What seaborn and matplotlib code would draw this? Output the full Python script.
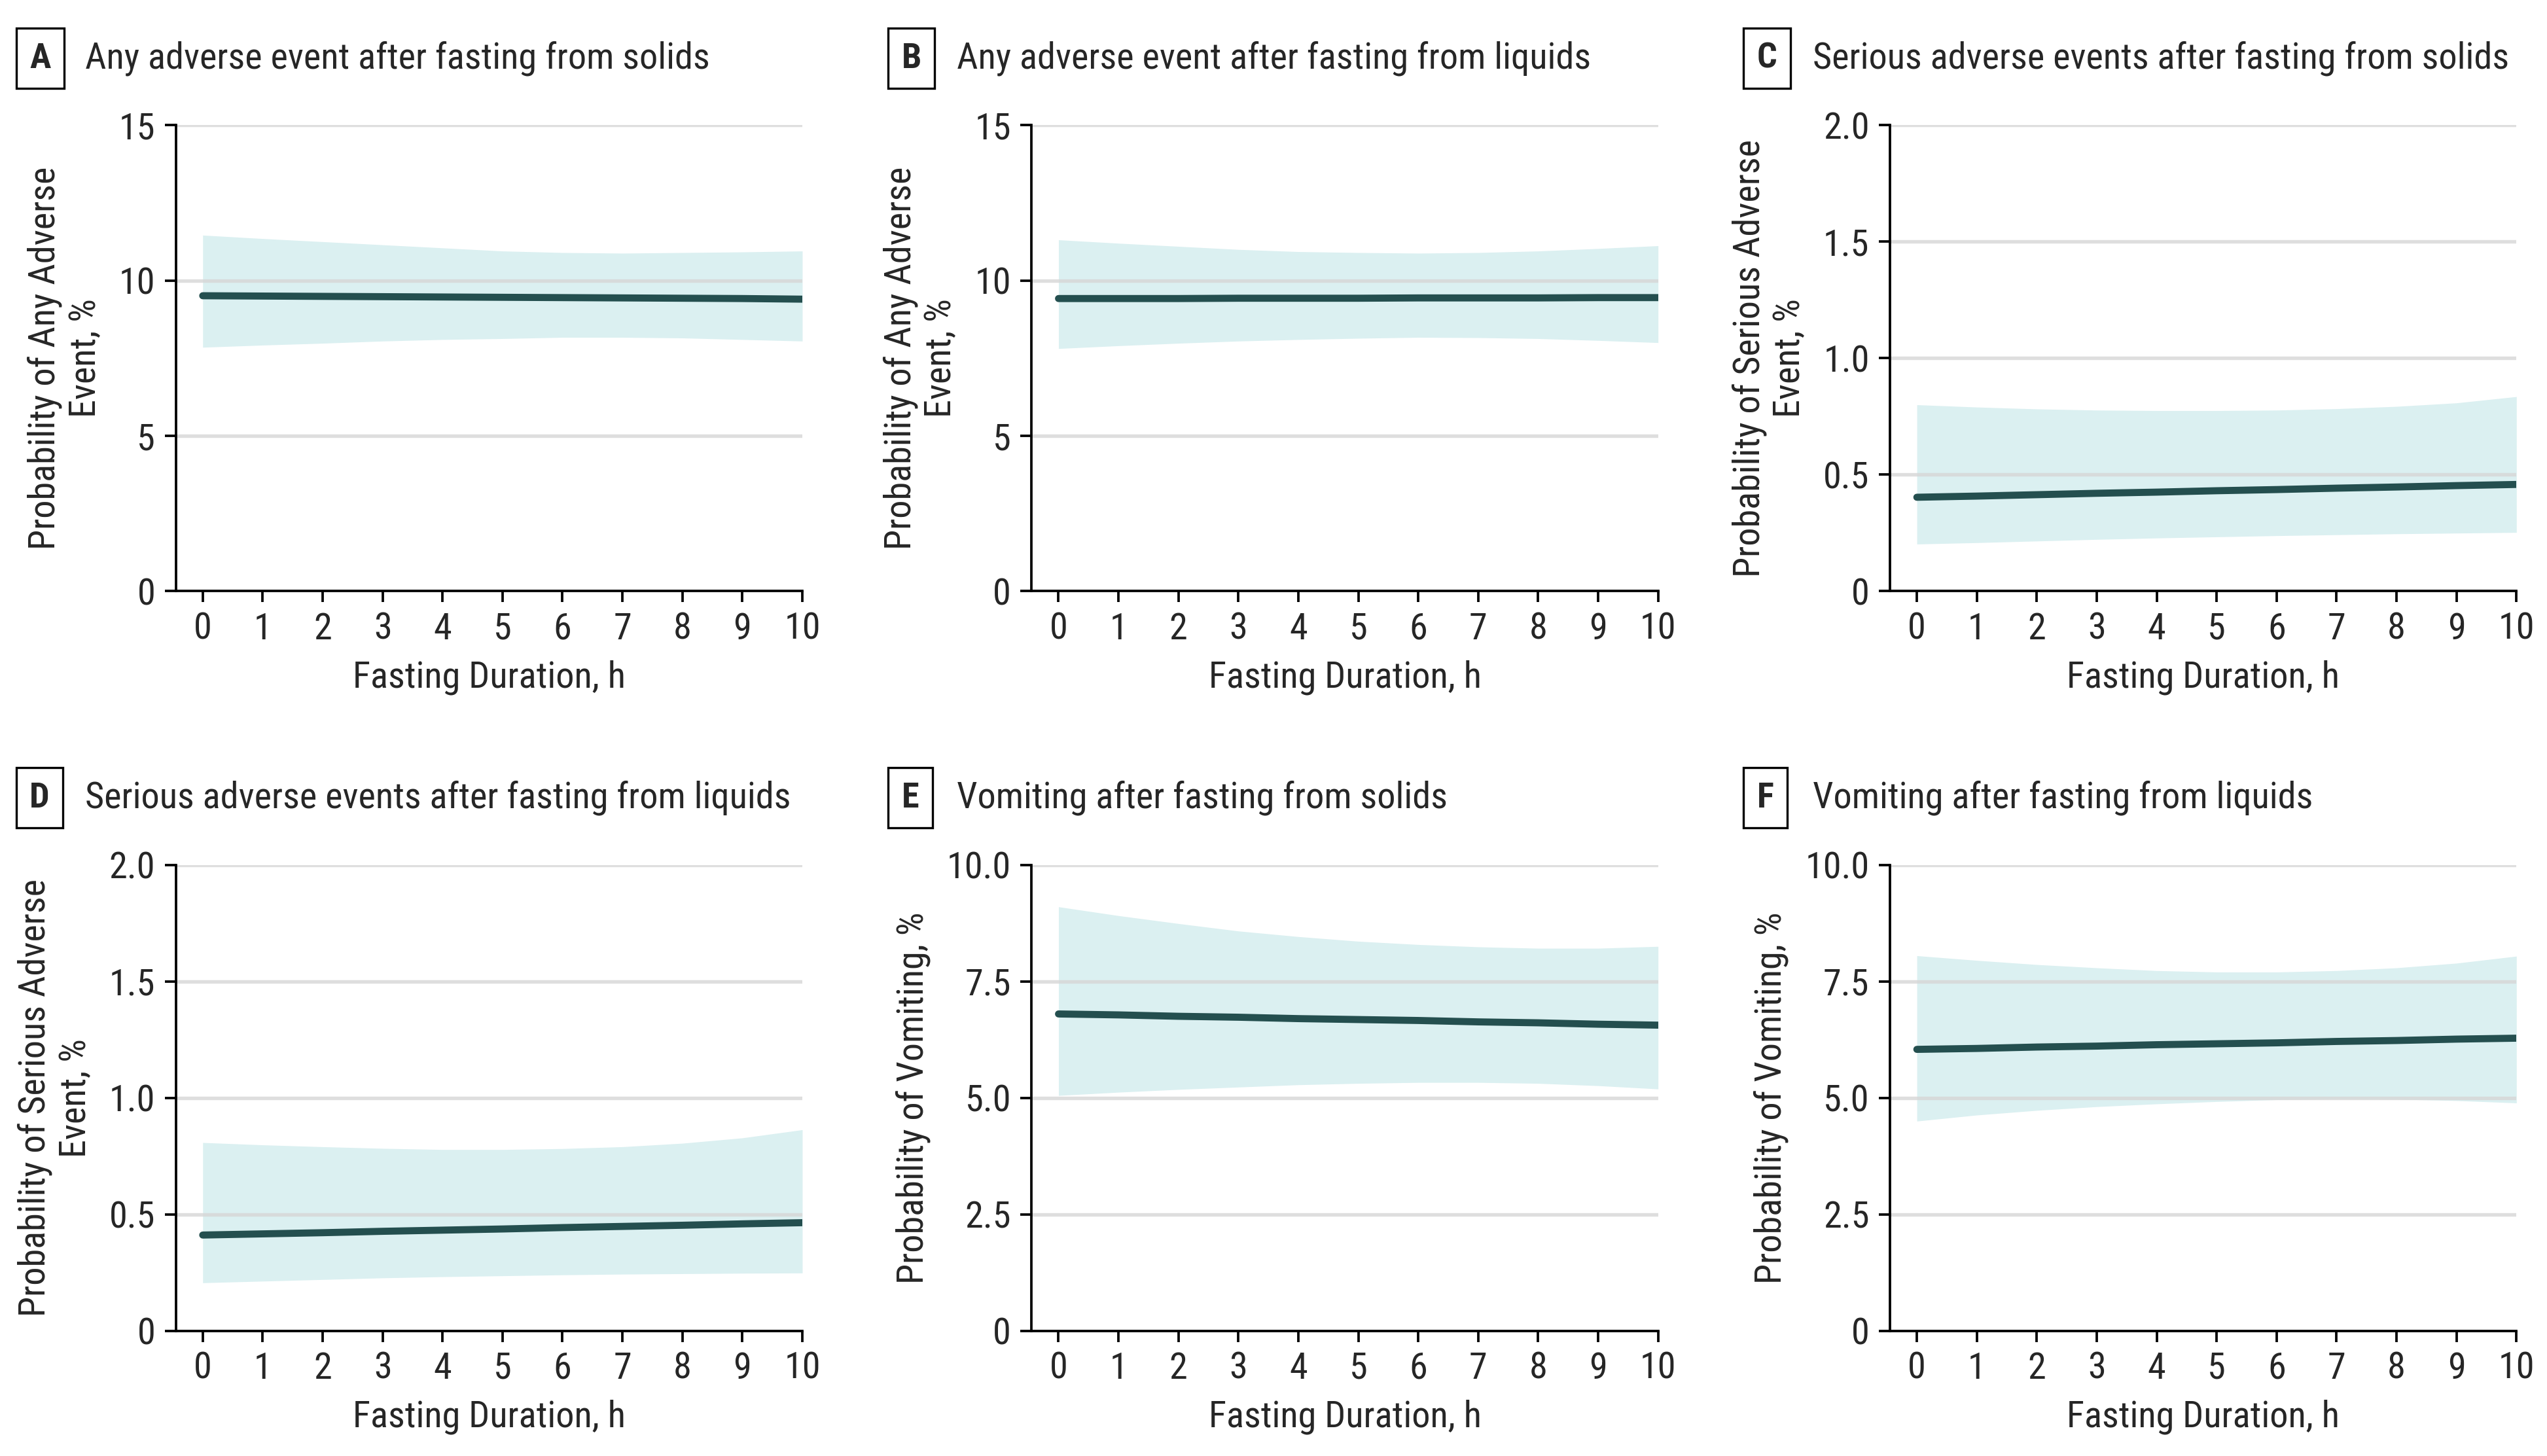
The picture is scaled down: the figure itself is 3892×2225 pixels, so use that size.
import numpy as np
import matplotlib
matplotlib.use("Agg")
import matplotlib.pyplot as plt
from matplotlib import font_manager
import seaborn as sns

# fasting duration (h)
hours = list(range(11))

# A - any adverse event, solids
a_mean = [9.51, 9.50, 9.49, 9.48, 9.47, 9.46, 9.45, 9.44, 9.43, 9.42, 9.40]
a_upper = [11.46, 11.35, 11.25, 11.15, 11.05, 10.95, 10.90, 10.88, 10.90, 10.92, 10.95]
a_lower = [7.85, 7.92, 7.98, 8.05, 8.10, 8.13, 8.17, 8.17, 8.15, 8.10, 8.05]

# B - any adverse event, liquids
b_mean = [9.42, 9.42, 9.42, 9.43, 9.43, 9.43, 9.44, 9.44, 9.44, 9.45, 9.45]
b_upper = [11.31, 11.20, 11.10, 11.00, 10.93, 10.90, 10.88, 10.90, 10.95, 11.03, 11.12]
b_lower = [7.81, 7.90, 7.98, 8.05, 8.10, 8.14, 8.17, 8.16, 8.13, 8.07, 8.00]

# C - serious adverse events, solids
c_mean = [0.403, 0.408, 0.414, 0.420, 0.425, 0.431, 0.436, 0.442, 0.447, 0.453, 0.458]
c_upper = [0.800, 0.790, 0.782, 0.777, 0.775, 0.775, 0.777, 0.783, 0.793, 0.808, 0.835]
c_lower = [0.202, 0.208, 0.215, 0.222, 0.228, 0.233, 0.238, 0.242, 0.246, 0.249, 0.252]

# D - serious adverse events, liquids
d_mean = [0.411, 0.416, 0.421, 0.427, 0.432, 0.437, 0.443, 0.448, 0.453, 0.459, 0.464]
d_upper = [0.808, 0.798, 0.790, 0.783, 0.778, 0.778, 0.782, 0.790, 0.805, 0.828, 0.863]
d_lower = [0.206, 0.213, 0.220, 0.227, 0.232, 0.236, 0.240, 0.243, 0.245, 0.247, 0.248]

# E - vomiting, solids
e_mean = [6.80, 6.78, 6.75, 6.73, 6.70, 6.68, 6.66, 6.63, 6.61, 6.58, 6.56]
e_upper = [9.10, 8.91, 8.74, 8.58, 8.46, 8.36, 8.29, 8.24, 8.21, 8.21, 8.25]
e_lower = [5.05, 5.12, 5.18, 5.23, 5.28, 5.31, 5.33, 5.33, 5.31, 5.26, 5.19]

# F - vomiting, liquids
f_mean = [6.04, 6.06, 6.09, 6.11, 6.14, 6.16, 6.18, 6.21, 6.23, 6.26, 6.28]
f_upper = [8.05, 7.95, 7.86, 7.79, 7.73, 7.70, 7.70, 7.73, 7.79, 7.89, 8.04]
f_lower = [4.50, 4.63, 4.73, 4.81, 4.87, 4.92, 4.96, 4.98, 4.97, 4.94, 4.89]

letters = ["A", "B", "C", "D", "E", "F"]
titles = ["Any adverse event after fasting from solids",
          "Any adverse event after fasting from liquids",
          "Serious adverse events after fasting from solids",
          "Serious adverse events after fasting from liquids",
          "Vomiting after fasting from solids",
          "Vomiting after fasting from liquids"]
ylabels = ["Probability of Any Adverse\nEvent, %",
           "Probability of Any Adverse\nEvent, %",
           "Probability of Serious Adverse\nEvent, %",
           "Probability of Serious Adverse\nEvent, %",
           "Probability of Vomiting, %",
           "Probability of Vomiting, %"]
yticks_any = [0, 5, 10, 15]
yticks_serious = [0, 0.5, 1.0, 1.5, 2.0]
yticks_vomit = [0, 2.5, 5.0, 7.5, 10.0]
ytick_labels_any = ["0", "5", "10", "15"]
ytick_labels_serious = ["0", "0.5", "1.0", "1.5", "2.0"]
ytick_labels_vomit = ["0", "2.5", "5.0", "7.5", "10.0"]

means = [a_mean, b_mean, c_mean, d_mean, e_mean, f_mean]
uppers = [a_upper, b_upper, c_upper, d_upper, e_upper, f_upper]
lowers = [a_lower, b_lower, c_lower, d_lower, e_lower, f_lower]
yticks = [yticks_any, yticks_any, yticks_serious, yticks_serious, yticks_vomit, yticks_vomit]
yticklabels = [ytick_labels_any, ytick_labels_any, ytick_labels_serious,
               ytick_labels_serious, ytick_labels_vomit, ytick_labels_vomit]

sns.set_style("ticks")

# the original uses a condensed face; take one if it is installed
installed = {f.name for f in font_manager.fontManager.ttflist}
narrow = [n for n in ["Roboto Condensed", "Liberation Sans Narrow",
                      "Open Sans Condensed", "DejaVu Sans Condensed"] if n in installed]
if narrow:
    plt.rcParams['font.family'] = [narrow[0], 'DejaVu Sans']
    fs = 13.5
else:
    plt.rcParams['font.family'] = ['DejaVu Sans']
    fs = 11

line_col = "#244f4f"
fill_col = "#dbf0f1"
grid_col = "#d6d6d6"

fig = plt.figure(figsize=(3892 / 300, 2225 / 300), dpi=300)

lefts = [0.069, 0.405, 0.742]
width = 0.246
bottoms = [0.594, 0.086]
height = 0.320
box_left = [0.0064, 0.3487, 0.6846]
title_y = [0.960, 0.452]

for i in range(6):
    r, c = divmod(i, 3)
    ax = fig.add_axes([lefts[c], bottoms[r], width, height])
    ax.fill_between(hours, lowers[i], uppers[i], color=fill_col, lw=0, zorder=1)
    for yt in yticks[i][1:]:
        ax.axhline(yt, color=grid_col, lw=1.3, alpha=0.8, zorder=2)
    sns.lineplot(x=hours, y=means[i], ax=ax, color=line_col, lw=2.6, zorder=3)
    ax.set_xlim(-0.45, 10)
    ax.set_ylim(0, yticks[i][-1])
    ax.set_xticks(hours)
    ax.set_xticklabels([str(h) for h in hours], fontsize=fs)
    ax.set_yticks(yticks[i])
    ax.set_yticklabels(yticklabels[i], fontsize=fs)
    ax.tick_params(length=4, width=0.9, color="black", pad=3.5)
    for s in ["top", "right"]:
        ax.spines[s].set_visible(False)
    for s in ["left", "bottom"]:
        ax.spines[s].set_linewidth(0.9)
        ax.spines[s].set_color("black")
    ax.set_xlabel("Fasting Duration, h", fontsize=fs, labelpad=5)
    ax.set_ylabel(ylabels[i], fontsize=fs, labelpad=6)
    fig.text(box_left[c] + 0.0052, title_y[r], letters[i], fontsize=fs - 0.5,
             fontweight="bold", ha="left", va="center",
             bbox=dict(boxstyle="square,pad=0.38", fc="white", ec="black", lw=0.8))
    fig.text(box_left[c] + 0.027, title_y[r], titles[i], fontsize=fs,
             ha="left", va="center")

fig.savefig("out.png", dpi=300, facecolor="white")
